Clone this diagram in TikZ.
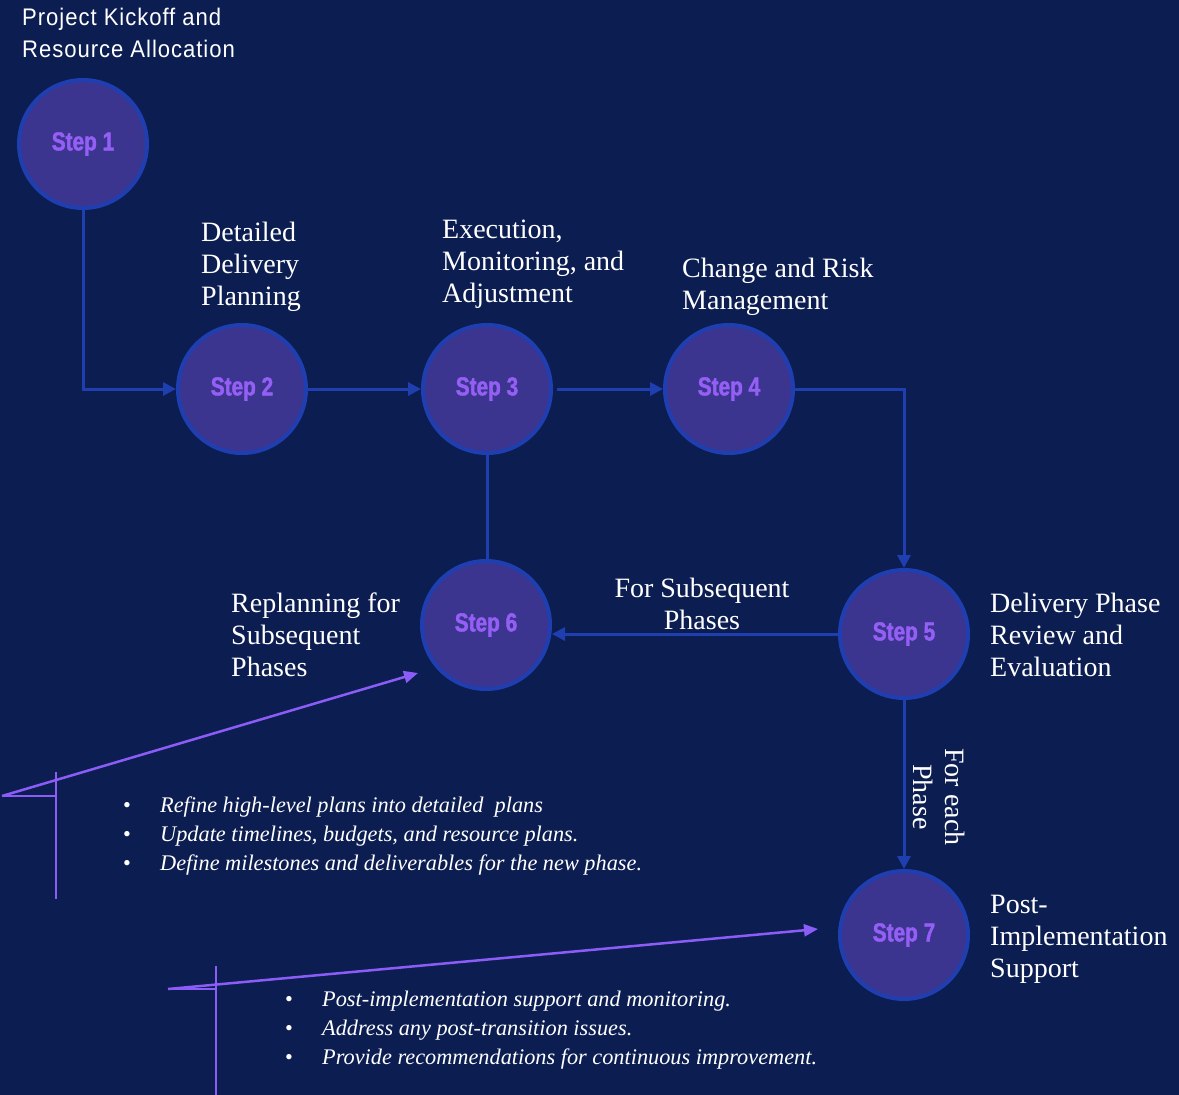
\documentclass[tikz,border=0pt]{standalone}
\usepackage{fontspec}
\setmainfont{Liberation Serif}
\newfontfamily\stepfont[FakeStretch=0.8,FakeBold=1.5]{Liberation Sans Bold}
\newfontfamily\titlefont[FakeStretch=0.92,LetterSpace=4]{Liberation Sans}
\usetikzlibrary{arrows.meta}
\definecolor{bg}{HTML}{0C1D52}
\definecolor{circfill}{HTML}{3C3590}
\definecolor{circline}{HTML}{1F3EB0}
\definecolor{steptext}{HTML}{955FF6}
\definecolor{callout}{HTML}{8B5CF6}
\begin{document}
\begin{tikzpicture}[x=1pt,y=-1pt,
 stepnode/.style={circle, draw=circline, line width=4pt, fill=circfill, minimum size=128pt, inner sep=0pt, font=\stepfont\fontsize{26}{30}\selectfont, text=steptext},
 flow/.style={draw=circline, line width=3pt, -{Triangle[length=13pt,width=13pt]}},
 plainflow/.style={draw=circline, line width=3pt},
 call/.style={draw=callout, line width=2.5pt},
 callarrow/.style={call, -{Triangle[length=14pt,width=12pt]}},
 lbl/.style={text=white, anchor=north west, align=left, inner sep=0pt, font=\fontsize{28}{32}\selectfont},
 bul/.style={text=white, anchor=north west, align=left, inner sep=0pt, font=\itshape\fontsize{22.3}{29}\selectfont},
]
\fill[bg] (0,0) rectangle (1179,1095);
\useasboundingbox (0,0) rectangle (1179,1095);

% step circles
\node[stepnode] (s1) at (83,144) {Step 1};
\node[stepnode] (s2) at (242,389) {Step 2};
\node[stepnode] (s3) at (487,389) {Step 3};
\node[stepnode] (s4) at (729,389) {Step 4};
\node[stepnode] (s5) at (904,634) {Step 5};
\node[stepnode] (s6) at (486,625) {Step 6};
\node[stepnode] (s7) at (904,935) {Step 7};

% connectors
\draw[flow] (s1.south) |- (s2.west);
\draw[flow] (s2.east) -- (s3.west);
\draw[flow, shorten <=4pt] (s3.east) -- (s4.west);
\draw[flow] (s4.east) -| (s5.north);
\draw[plainflow] (s3.south) -- (s3.south |- s6.north);
\draw[flow] (s5.west) -- (s5.west -| s6.east);
\draw[flow] (s5.south) -- (s7.north);

% labels
\node[text=white, anchor=north west, align=left, inner sep=0pt, font=\titlefont\fontsize{24}{32}\selectfont] (t1) at (22,8) {Project Kickoff and\\Resource Allocation};
\node[lbl] (t2) at (201,222) {Detailed\\Delivery\\Planning};
\node[lbl] (t3) at (442,220) {Execution,\\Monitoring, and\\Adjustment};
\node[lbl] (t4) at (682,258) {Change and Risk\\Management};
\node[lbl] (t6) at (231,593) {Replanning for\\Subsequent\\Phases};
\node[lbl] (t5) at (990,593) {Delivery Phase\\Review and\\Evaluation};
\node[lbl] (t7) at (990,895) {Post-\\Implementation\\Support};
\node[text=white, anchor=north, align=center, inner sep=0pt, font=\fontsize{28}{32}\selectfont] (sub) at (702,578) {For Subsequent\\Phases};
\node[text=white, rotate=-90, align=center, inner sep=0pt, font=\fontsize{28}{32}\selectfont] (each) at (939,797) {For each\\Phase};

% callout 1
\coordinate (c1a) at (2,796);
\coordinate (c1b) at (56,796);
\coordinate (c1t) at (56,772);
\coordinate (c1d) at (56,899);
\coordinate (c1e) at (418,673);
\draw[callarrow] (c1a) -- (c1e);
\draw[call] (c1a) -- (c1b);
\draw[call] (c1t) -- (c1d);
\node[bul] (b1) at (123,797) {\makebox[37pt][l]{\upshape\textbullet}Refine high-level plans into detailed\ \ plans\\
\makebox[37pt][l]{\upshape\textbullet}Update timelines, budgets, and resource plans.\\
\makebox[37pt][l]{\upshape\textbullet}Define milestones and deliverables for the new phase.};

% callout 2
\coordinate (c2a) at (168,989);
\coordinate (c2b) at (216,989);
\coordinate (c2t) at (216,966);
\coordinate (c2d) at (216,1095);
\coordinate (c2e) at (818,929);
\draw[callarrow] (c2a) -- (c2e);
\draw[call] (c2a) -- (c2b);
\draw[call] (c2t) -- (c2d);
\node[bul] (b2) at (285,991) {\makebox[37pt][l]{\upshape\textbullet}Post-implementation support and monitoring.\\
\makebox[37pt][l]{\upshape\textbullet}Address any post-transition issues.\\
\makebox[37pt][l]{\upshape\textbullet}Provide recommendations for continuous improvement.};
\end{tikzpicture}
\end{document}
